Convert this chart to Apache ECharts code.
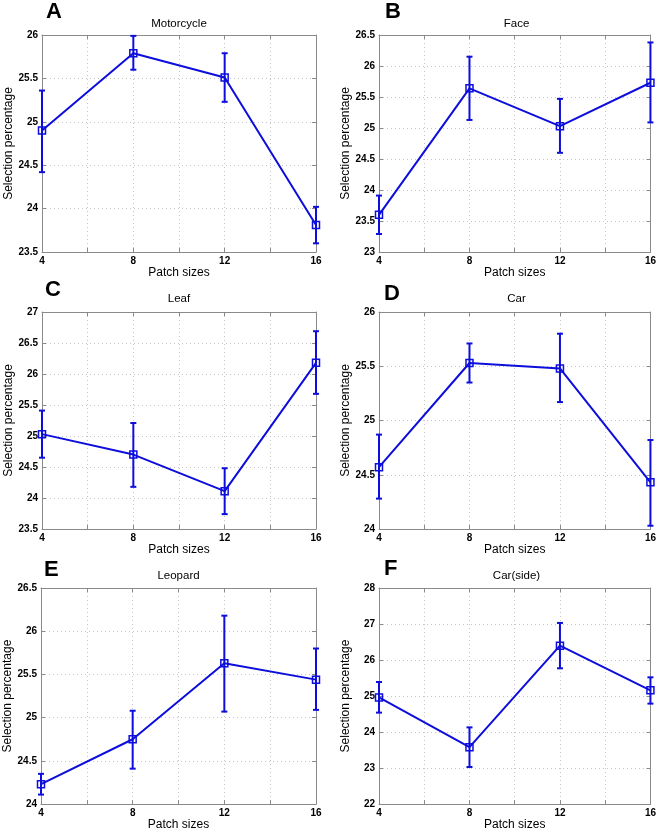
<!DOCTYPE html>
<html>
<head>
<meta charset="utf-8">
<script src="https://cdn.jsdelivr.net/npm/echarts@6/dist/echarts.min.js"></script>
<style>
html,body{margin:0;padding:0;background:#fff;}
#chart{width:659px;height:832px;}
</style>
</head>
<body>
<div id="chart"></div>
<script>
// ---- data ----
var patchSizes = [4, 8, 12, 16];
var xTickLabels = [4, 8, 12, 16];

var panelLetters = ['A', 'B', 'C', 'D', 'E', 'F'];
var panelTitles = ['Motorcycle', 'Face', 'Leaf', 'Car', 'Leopard', 'Car(side)'];

var motorcycleMean = [24.90, 25.79, 25.51, 23.81];
var motorcycleLow  = [24.42, 25.60, 25.23, 23.60];
var motorcycleHigh = [25.36, 25.99, 25.79, 24.02];

var faceMean = [23.60, 25.64, 25.03, 25.73];
var faceLow  = [23.29, 25.13, 24.60, 25.09];
var faceHigh = [23.91, 26.15, 25.47, 26.38];

var leafMean = [25.03, 24.70, 24.11, 26.18];
var leafLow  = [24.65, 24.18, 23.74, 25.68];
var leafHigh = [25.41, 25.21, 24.48, 26.69];

var carMean = [24.57, 25.53, 25.48, 24.43];
var carLow  = [24.28, 25.35, 25.17, 24.03];
var carHigh = [24.87, 25.71, 25.80, 24.82];

var leopardMean = [24.23, 24.75, 25.63, 25.44];
var leopardLow  = [24.11, 24.41, 25.07, 25.09];
var leopardHigh = [24.35, 25.08, 26.18, 25.80];

var carSideMean = [24.96, 23.58, 26.40, 25.16];
var carSideLow  = [24.54, 23.03, 25.77, 24.79];
var carSideHigh = [25.39, 24.13, 27.03, 25.52];

// y-axis tick ranges (min, max, step)
var yMins = [23.5, 23, 23.5, 24, 24, 22];
var yMaxs = [26, 26.5, 27, 26, 26.5, 28];
var ySteps = [0.5, 0.5, 0.5, 0.5, 0.5, 1];

var means = [motorcycleMean, faceMean, leafMean, carMean, leopardMean, carSideMean];
var lows  = [motorcycleLow, faceLow, leafLow, carLow, leopardLow, carSideLow];
var highs = [motorcycleHigh, faceHigh, leafHigh, carHigh, leopardHigh, carSideHigh];

// ---- layout ----
var grids = [
  {left: 42,  top: 35,  width: 274, height: 217},
  {left: 379, top: 35,  width: 275, height: 217},
  {left: 42,  top: 312, width: 274, height: 217},
  {left: 379, top: 312, width: 275, height: 217},
  {left: 41,  top: 588, width: 275, height: 218},
  {left: 379, top: 588, width: 275, height: 218}
];
var letterPos = [[46, 1], [385, 1], [45, 279], [384, 283], [44, 559], [384, 558]];
var titleY = [24, 24, 299, 299, 576, 576];

var BLUE = '#0d0ddc';
var AXIS_GRAY = '#8a8a8a';
var FONT = 'Liberation Sans, Arial, sans-serif';

var option = {
  backgroundColor: '#fff',
  animation: false,
  grid: [], xAxis: [], yAxis: [], series: [], title: []
};

function errRender(params, api) {
  var x = api.value(0), lo = api.value(1), hi = api.value(2);
  var pLo = api.coord([x, lo]);
  var pHi = api.coord([x, hi]);
  var hw = 3;
  var st = {stroke: BLUE, lineWidth: 2};
  return {
    type: 'group',
    children: [
      {type: 'line', shape: {x1: pLo[0], y1: pLo[1], x2: pHi[0], y2: pHi[1]}, style: st},
      {type: 'line', shape: {x1: pLo[0] - hw, y1: pLo[1], x2: pLo[0] + hw, y2: pLo[1]}, style: st},
      {type: 'line', shape: {x1: pHi[0] - hw, y1: pHi[1], x2: pHi[0] + hw, y2: pHi[1]}, style: st}
    ]
  };
}

for (var i = 0; i < 6; i++) {
  var g = grids[i];
  option.grid.push({left: g.left, top: g.top, width: g.width, height: g.height, show: false, containLabel: false});

  var xBase = {
    type: 'value', gridIndex: i, min: 4, max: 16, interval: 2,
    axisLine: {show: true, lineStyle: {color: AXIS_GRAY, width: 1}},
    axisTick: {show: true, inside: true, length: 4, lineStyle: {color: AXIS_GRAY}}
  };
  // bottom x
  option.xAxis.push(Object.assign({}, xBase, {
    position: 'bottom',
    name: 'Patch sizes', nameLocation: 'middle', nameGap: 12,
    nameTextStyle: {fontSize: 12, color: '#000', fontFamily: FONT},
    axisLabel: {
      show: true, margin: 4, fontSize: 10, fontWeight: 'bold', color: '#000', fontFamily: FONT,
      formatter: function (v) { return xTickLabels.indexOf(v) >= 0 ? String(v) : ''; }
    },
    splitLine: {show: true, lineStyle: {color: '#c4c4c4', type: [1, 3], width: 1}}
  }));
  // top x (box + ticks)
  option.xAxis.push(Object.assign({}, xBase, {
    position: 'top', axisLabel: {show: false}, splitLine: {show: false}
  }));

  var yBase = {
    type: 'value', gridIndex: i, min: yMins[i], max: yMaxs[i], interval: ySteps[i],
    axisLine: {show: true, lineStyle: {color: AXIS_GRAY, width: 1}},
    axisTick: {show: true, inside: true, length: 4, lineStyle: {color: AXIS_GRAY}}
  };
  option.yAxis.push(Object.assign({}, yBase, {
    position: 'left',
    name: 'Selection percentage', nameLocation: 'middle', nameGap: 27,
    nameTextStyle: {fontSize: 12, color: '#000', fontFamily: FONT},
    axisLabel: {show: true, margin: 4, fontSize: 10, fontWeight: 'bold', color: '#000', fontFamily: FONT},
    splitLine: {show: true, lineStyle: {color: '#c4c4c4', type: [1, 3], width: 1}}
  }));
  option.yAxis.push(Object.assign({}, yBase, {
    position: 'right', axisLabel: {show: false}, splitLine: {show: false}
  }));

  var lineData = [], errData = [];
  for (var k = 0; k < patchSizes.length; k++) {
    lineData.push([patchSizes[k], means[i][k]]);
    errData.push([patchSizes[k], lows[i][k], highs[i][k]]);
  }

  option.series.push({
    type: 'custom', xAxisIndex: 2 * i, yAxisIndex: 2 * i,
    renderItem: errRender, data: errData, clip: false, z: 3, silent: true
  });
  option.series.push({
    type: 'line', xAxisIndex: 2 * i, yAxisIndex: 2 * i, data: lineData,
    symbol: 'rect', symbolSize: 7, showSymbol: true, clip: false,
    lineStyle: {color: BLUE, width: 2},
    itemStyle: {color: 'rgba(255,255,255,0)', borderColor: BLUE, borderWidth: 1.5},
    z: 4, silent: true
  });

  option.title.push({
    text: panelTitles[i], left: g.left + g.width / 2, top: titleY[i],
    textAlign: 'center', textVerticalAlign: 'middle', padding: 0,
    textStyle: {fontSize: 11.5, fontWeight: 'normal', color: '#000', fontFamily: FONT}
  });
  option.title.push({
    text: panelLetters[i], left: letterPos[i][0], top: letterPos[i][1], padding: 0,
    textStyle: {fontSize: 22, fontWeight: 'bold', color: '#000', fontFamily: FONT}
  });
}

var chart = echarts.init(document.getElementById('chart'), null, {renderer: 'canvas'});
chart.setOption(option);
</script>
</body>
</html>
